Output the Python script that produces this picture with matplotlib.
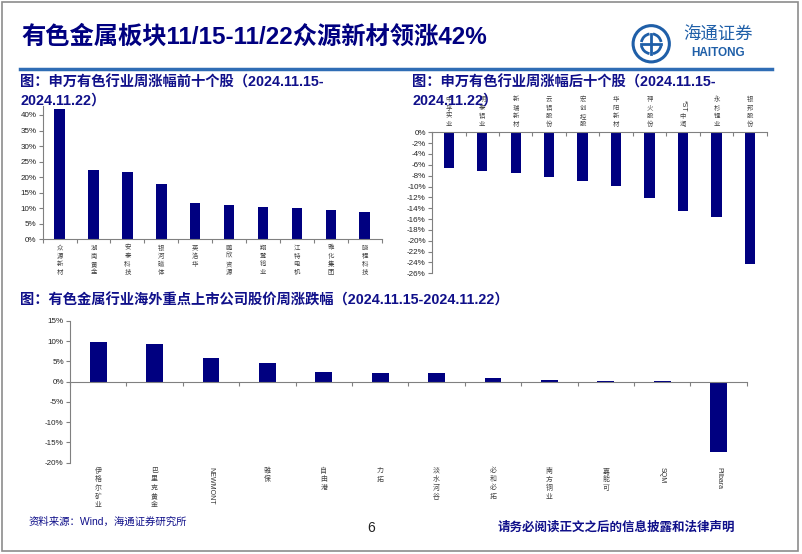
import matplotlib
matplotlib.use("Agg")
import matplotlib.pyplot as plt
from matplotlib.patches import Rectangle, Circle, Arc
from matplotlib.lines import Line2D

plt.rcParams['font.family'] = ['Liberation Sans', 'Noto Sans CJK SC', 'DejaVu Sans']

# ---- data ----
top_names = ['众源新材', '湖南黄金', '安泰科技', '银河磁体', '英洛华',
             '鹏欣资源', '翔鹭钨业', '江特电机', '雅化集团', '晓程科技']
top_vals = [42.0, 22.4, 21.7, 17.8, 11.6, 11.1, 10.3, 10.0, 9.3, 8.9]

bot_names = ['中孚实业', '明泰铝业', '新瑞新材', '云铝股份', '宏创控股',
             '华阳新材', '神火股份', '*ST中润', '永杉锂业', '银邦股份']
bot_vals = [-6.6, -7.2, -7.5, -8.2, -9.0, -9.9, -12.2, -14.5, -15.6, -24.3]

ovs_names = ['伊格尔矿业', '巴里克黄金', 'NEWMONT', '雅保', '自由港', '力拓',
             '淡水河谷', '必和必拓', '南方铜业', '嘉能可', 'SQM', 'Pilbara']
ovs_vals = [9.8, 9.4, 5.9, 4.6, 2.3, 2.1, 2.1, 0.9, 0.4, 0.3, 0.2, -17.3]

NAVY = '#000080'
TXT = '#10108a'
AX = '#808080'
CJK = ['Noto Sans CJK SC', 'DejaVu Sans']

fig = plt.figure(figsize=(8.02, 5.54), dpi=100)

# page frame
fig.patches.append(Rectangle((0.002, 0.005), 0.993, 0.992, transform=fig.transFigure,
                             fill=False, edgecolor='#8c8c8c', lw=1.2))

# header
fig.text(0.027, 0.933, '有色金属板块11/15-11/22众源新材领涨42%', fontsize=17.5,
         fontweight='bold', color=NAVY, va='center')
fig.add_artist(Line2D([0.025, 0.963], [0.876, 0.876], transform=fig.transFigure,
                      color='#2f6db5', lw=2.5))

# logo
lax = fig.add_axes([0.787, 0.885, 0.05, 0.072])
lax.set_xlim(-1.1, 1.1)
lax.set_ylim(-1.1, 1.1)
lax.set_aspect('equal')
lax.axis('off')
lax.add_patch(Circle((0, 0), 1.0, fill=False, ec='#1f5fa8', lw=2.2))
for ang in (0, 90, 180, 270):
    lax.add_patch(Arc((0, 0), 1.1, 1.1, theta1=ang + 10, theta2=ang + 80, color='#1f5fa8', lw=2))
lax.plot([-0.55, 0.55], [0, 0], color='#1f5fa8', lw=2)
lax.plot([0, 0], [-0.55, 0.55], color='#1f5fa8', lw=2)
fig.text(0.895, 0.937, '海通证券', fontsize=12.5, color='#1f5fa8', style='italic',
         ha='center', va='center')
fig.text(0.895, 0.905, 'HAITONG', fontsize=8.5, color='#1f5fa8', fontweight='bold',
         ha='center', va='center')


def pct(v, pos=None):
    return f'{v:.0f}%'


def style_axes(ax, n):
    for s in ('top', 'right'):
        ax.spines[s].set_visible(False)
    for s in ('left', 'bottom'):
        ax.spines[s].set_color(AX)
        ax.spines[s].set_linewidth(0.8)
    ax.spines['bottom'].set_position(('data', 0))
    ax.set_xlim(-0.5, n - 0.5)
    ax.set_xticks([i - 0.5 for i in range(n + 1)])
    ax.set_xticklabels([])
    ax.tick_params(axis='x', direction='out', length=3, color=AX, width=0.8)
    ax.tick_params(axis='y', direction='out', length=3, color=AX, width=0.8,
                   labelsize=5.8, labelcolor='#222222', pad=1.5)
    ax.yaxis.set_major_formatter(plt.FuncFormatter(pct))


def vlabel(ax, i, name, y, ycoords, offset, va, fs, ls):
    if name.isascii():
        ax.annotate(name, xy=(i, y), xycoords=('data', ycoords), xytext=(0, offset),
                    textcoords='offset points', ha='center', va=va, rotation=270,
                    fontsize=fs, color='#333333')
    else:
        ax.annotate('\n'.join(name), xy=(i, y), xycoords=('data', ycoords),
                    xytext=(0, offset), textcoords='offset points', ha='center', va=va,
                    fontsize=fs, color='#444444', linespacing=ls, family=CJK)


TFS = 10.3

# ---- chart 1: top ten ----
fig.text(0.025, 0.851, '图：申万有色行业周涨幅前十个股（2024.11.15-', fontsize=TFS,
         fontweight='bold', color=TXT, va='center')
fig.text(0.025, 0.818, '2024.11.22）', fontsize=TFS, fontweight='bold', color=TXT,
         va='center', zorder=5)
ax1 = fig.add_axes([0.0532, 0.568, 0.4227, 0.2413])
ax1.bar(range(len(top_vals)), top_vals, width=0.31, color=NAVY)
ax1.set_ylim(0, 43)
ax1.set_yticks(range(0, 41, 5))
style_axes(ax1, len(top_vals))
for i, nm in enumerate(top_names):
    vlabel(ax1, i, nm, 0, 'data', -3, 'top', 4.6, 1.05)

# ---- chart 2: bottom ten ----
fig.text(0.514, 0.851, '图：申万有色行业周涨幅后十个股（2024.11.15-', fontsize=TFS,
         fontweight='bold', color=TXT, va='center')
fig.text(0.514, 0.818, '2024.11.22）', fontsize=TFS, fontweight='bold', color=TXT,
         va='center', zorder=5)
ax2 = fig.add_axes([0.5387, 0.5067, 0.4173, 0.2545])
ax2.bar(range(len(bot_vals)), bot_vals, width=0.31, color=NAVY)
ax2.set_ylim(-26, 0)
ax2.set_yticks(range(-26, 1, 2))
style_axes(ax2, len(bot_vals))
for i, nm in enumerate(bot_names):
    if nm.startswith('*ST'):
        ax2.annotate('\n'.join(nm[3:]), xy=(i, 0), xycoords='data', xytext=(0, 3),
                     textcoords='offset points', ha='center', va='bottom', fontsize=4.6,
                     color='#444444', linespacing=1.05, family=CJK)
        ax2.annotate(nm[:3], xy=(i, 0), xycoords='data', xytext=(0, 15),
                     textcoords='offset points', ha='center', va='bottom', rotation=270,
                     fontsize=5, color='#333333')
    else:
        vlabel(ax2, i, nm, 0, 'data', 3, 'bottom', 4.6, 1.05)

# ---- chart 3: overseas ----
fig.text(0.025, 0.458, '图：有色金属行业海外重点上市公司股价周涨跌幅（2024.11.15-2024.11.22）',
         fontsize=TFS, fontweight='bold', color=TXT, va='center')
ax3 = fig.add_axes([0.0873, 0.1648, 0.8438, 0.2558])
ax3.bar(range(len(ovs_vals)), ovs_vals, width=0.3, color=NAVY)
ax3.set_ylim(-20, 15)
ax3.set_yticks(range(-20, 16, 5))
style_axes(ax3, len(ovs_vals))
for i, nm in enumerate(ovs_names):
    vlabel(ax3, i, nm, 0, 'axes fraction', -3, 'top', 5, 1.1)

# ---- footer ----
fig.text(0.035, 0.058, '资料来源：Wind，海通证券研究所', fontsize=7.5, color=TXT, va='center')
fig.text(0.463, 0.047, '6', fontsize=10, color='#222222', va='center', ha='center')
fig.text(0.62, 0.047, '请务必阅读正文之后的信息披露和法律声明', fontsize=9,
         fontweight='bold', color=TXT, va='center')

fig.savefig('out.png', dpi=100)
